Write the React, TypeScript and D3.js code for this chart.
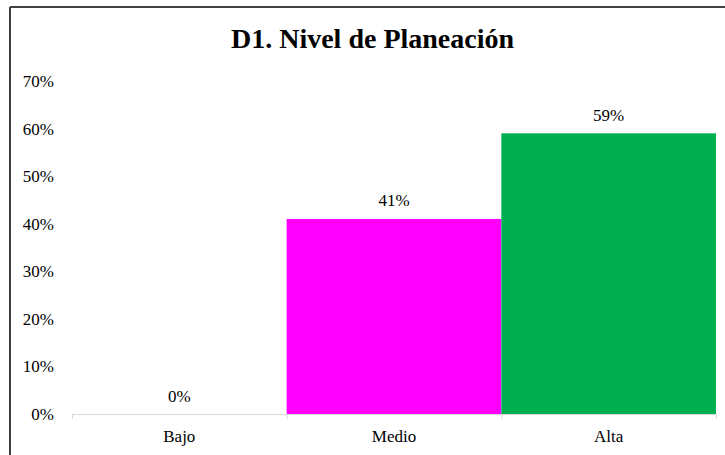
import React from "react";
import * as d3 from "d3";

const categories = ["Bajo", "Medio", "Alta"];
const values = [0, 41, 59];
const colors = ["#4472c4", "#ff00ff", "#00b050"];
const yTicks = [0, 10, 20, 30, 40, 50, 60, 70];

const W = 725;
const H = 455;
const left = 72;
const right = 716;
const top = 81;
const bottom = 414;

export default function App() {
  const x = d3.scaleBand<string>().domain(categories).range([left, right]).paddingInner(0).paddingOuter(0);
  const y = d3.scaleLinear().domain([0, 70]).range([bottom, top]);
  const font = "Liberation Serif, Times New Roman, Times, serif";
  const boundaries = [...categories.map((c) => x(c) as number), right];
  return (
    <svg width={W} height={H} style={{ position: "absolute", left: 0, top: 0, background: "#fff", fontFamily: font }}>
      <rect x={0} y={0} width={W} height={H} fill="#fff" />
      <line x1={10} y1={7} x2={W} y2={7} stroke="#404040" strokeWidth={2} />
      <line x1={10} y1={7} x2={10} y2={H} stroke="#404040" strokeWidth={2} />
      <text x={372.5} y={48} textAnchor="middle" style={{ fontFamily: font, fontSize: 28, fontWeight: "bold" }} fill="#000">
        D1. Nivel de Planeación
      </text>
      {yTicks.map((t) => (
        <text key={t} x={54} y={y(t) + 6} textAnchor="end" style={{ fontFamily: font, fontSize: 17 }} fill="#000">
          {t}%
        </text>
      ))}
      {categories.map((c, i) => (
        <g key={c}>
          {values[i] > 0 && (
            <rect x={x(c)} y={y(values[i])} width={x.bandwidth()} height={bottom - y(values[i])} fill={colors[i]} />
          )}
          <text x={(x(c) as number) + x.bandwidth() / 2} y={y(values[i]) - 12.5} textAnchor="middle" style={{ fontFamily: font, fontSize: 17 }} fill="#000">
            {values[i]}%
          </text>
          <text x={(x(c) as number) + x.bandwidth() / 2} y={442} textAnchor="middle" style={{ fontFamily: font, fontSize: 17 }} fill="#000">
            {c}
          </text>
        </g>
      ))}
      <line x1={left} y1={bottom + 0.5} x2={right} y2={bottom + 0.5} stroke="#d9d9d9" strokeWidth={1} />
      {boundaries.map((b, i) => (
        <line key={i} x1={b + 0.5} y1={bottom} x2={b + 0.5} y2={bottom + 5} stroke="#d9d9d9" strokeWidth={1} />
      ))}
    </svg>
  );
}
